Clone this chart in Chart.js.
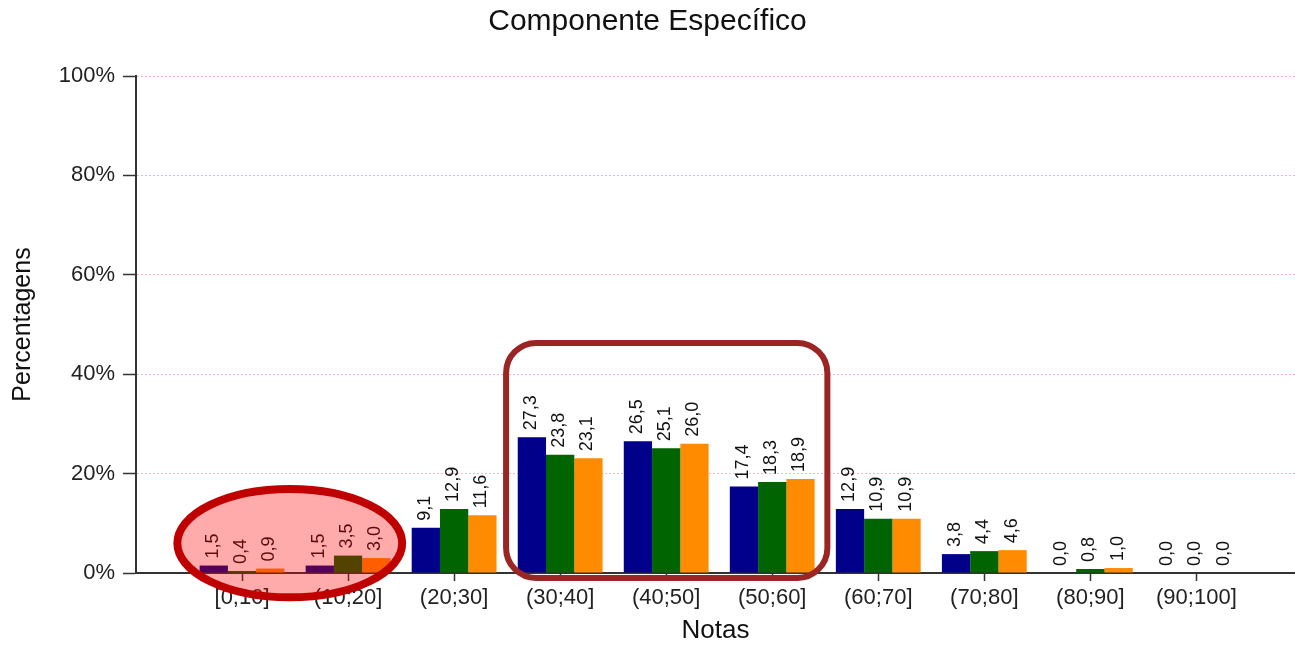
<!DOCTYPE html>
<html>
<head>
<meta charset="utf-8">
<script src="https://cdn.jsdelivr.net/npm/chart.js@4"></script>
<style>
  html, body { margin: 0; padding: 0; background: #fff; }
  #wrap { width: 1295px; height: 646px; }
</style>
</head>
<body>
<div id="wrap"><canvas id="notasChart" width="1295" height="646"></canvas></div>
<script>
const categories = ["[0;10]", "(10;20]", "(20;30]", "(30;40]", "(40;50]", "(50;60]", "(60;70]", "(70;80]", "(80;90]", "(90;100]"];
const serieA = [1.5, 1.5, 9.1, 27.3, 26.5, 17.4, 12.9, 3.8, 0.0, 0.0];
const serieB = [0.4, 3.5, 12.9, 23.8, 25.1, 18.3, 10.9, 4.4, 0.8, 0.0];
const serieC = [0.9, 3.0, 11.6, 23.1, 26.0, 18.9, 10.9, 4.6, 1.0, 0.0];
const serieNames = ["Série 1", "Série 2", "Série 3"];
const serieColors = ["#00008B", "#006400", "#FF8C00"];
const yTicks = [0, 20, 40, 60, 80, 100];

const fontFamily = '"Liberation Sans", Arial, sans-serif';
Chart.defaults.font.family = fontFamily;

function toPoints(values) {
    return values.map((v, i) => ({ x: i, y: v }));
}

// rotated value labels above each bar
const barLabels = {
    id: 'barLabels',
    afterDatasetsDraw(chart) {
        const ctx = chart.ctx;
        ctx.save();
        ctx.font = '18px ' + fontFamily;
        ctx.fillStyle = '#111';
        ctx.textAlign = 'left';
        ctx.textBaseline = 'middle';
        chart.data.datasets.forEach((ds, di) => {
            const meta = chart.getDatasetMeta(di);
            meta.data.forEach((bar, i) => {
                const v = ds.data[i].y;
                ctx.save();
                ctx.translate(bar.x - 1, bar.y - 7);
                ctx.rotate(-Math.PI / 2);
                ctx.fillText(v.toFixed(1).replace('.', ','), 0, 0);
                ctx.restore();
            });
        });
        ctx.restore();
    }
};

// highlight marks drawn over the chart (ellipse + rounded box)
const highlights = {
    id: 'highlights',
    afterDraw(chart) {
        const ctx = chart.ctx;
        const xs = chart.scales.x;
        const ys = chart.scales.y;

        const cx = xs.getPixelForValue(0.45);
        const cy = ys.getPixelForValue(6);
        const rx = xs.getPixelForValue(1.51) - cx;
        const ry = ys.getPixelForValue(-4.9) - cy;
        ctx.save();
        ctx.beginPath();
        ctx.ellipse(cx, cy, rx, ry, 0, 0, Math.PI * 2);
        ctx.fillStyle = 'rgba(255, 0, 0, 0.33)';
        ctx.fill();
        ctx.lineWidth = 8;
        ctx.strokeStyle = '#C00000';
        ctx.stroke();
        ctx.restore();

        const x1 = xs.getPixelForValue(2.49);
        const x2 = xs.getPixelForValue(5.52);
        const y1 = ys.getPixelForValue(46.3);
        const y2 = ys.getPixelForValue(-1);
        ctx.save();
        ctx.beginPath();
        ctx.roundRect(x1, y1, x2 - x1, y2 - y1, 30);
        ctx.lineWidth = 6;
        ctx.strokeStyle = '#9B2525';
        ctx.stroke();
        ctx.restore();
    }
};

const datasets = [serieA, serieB, serieC].map((vals, i) => ({
    label: serieNames[i],
    data: toPoints(vals),
    backgroundColor: serieColors[i],
    borderWidth: 0,
    categoryPercentage: 0.8,
    barPercentage: 1.0
}));

new Chart(document.getElementById('notasChart'), {
    type: 'bar',
    data: { datasets: datasets },
    options: {
        responsive: false,
        animation: false,
        layout: { padding: 0 },
        plugins: {
            legend: { display: false },
            tooltip: { enabled: false },
            title: {
                display: true,
                text: 'Componente Específico',
                color: '#111',
                font: { size: 30, weight: 'normal' },
                padding: { top: 4, bottom: 36 }
            }
        },
        scales: {
            x: {
                type: 'linear',
                offset: false,
                min: -1,
                max: 9.93,
                afterBuildTicks: s => { s.ticks = categories.map((c, i) => ({ value: i })); },
                afterFit: s => { s.height = 73; },
                ticks: {
                    callback: v => categories[v],
                    color: '#222',
                    font: { size: 22 },
                    padding: 4,
                    maxRotation: 0,
                    autoSkip: false
                },
                grid: { offset: false, drawOnChartArea: false, drawTicks: true, tickLength: 8, tickColor: '#333', tickWidth: 1.5 },
                border: { display: true, color: '#333', width: 2 },
                title: { display: true, text: 'Notas', color: '#111', font: { size: 26 }, padding: 0 }
            },
            y: {
                min: 0,
                max: 100,
                afterBuildTicks: s => { s.ticks = yTicks.map(v => ({ value: v })); },
                afterFit: s => { s.width = 136; },
                ticks: { callback: v => v + '%', color: '#222', font: { size: 22 }, padding: 8 },
                grid: {
                    color: c => (c.tick && c.tick.value === 0) ? 'rgba(0,0,0,0)' : '#FFB3C6',
                    lineWidth: 1,
                    tickLength: 13,
                    tickColor: '#333',
                    tickWidth: 1.5
                },
                border: { display: true, color: '#333', width: 2, dash: [2, 2] },
                title: { display: true, text: 'Percentagens', color: '#111', font: { size: 25 }, padding: { top: 8, bottom: 0 } }
            }
        }
    },
    plugins: [barLabels, highlights]
});
</script>
</body>
</html>
